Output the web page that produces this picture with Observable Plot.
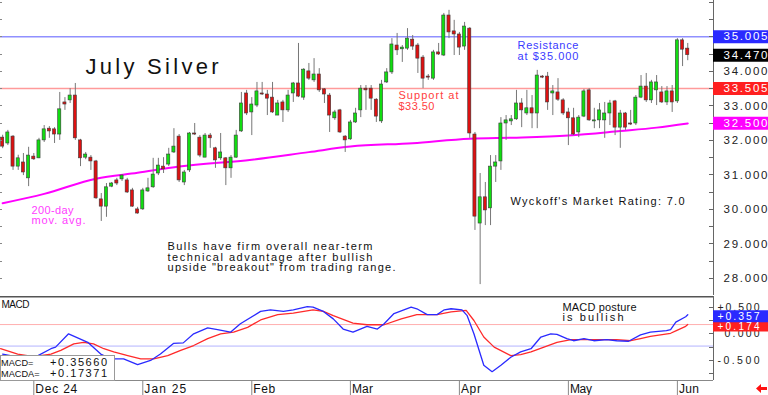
<!DOCTYPE html>
<html><head><meta charset="utf-8">
<script src="https://cdn.jsdelivr.net/npm/d3@7"></script>
<script src="https://cdn.jsdelivr.net/npm/@observablehq/plot@0.6"></script>
<style>
body{margin:0;background:#fff;}
#wrap{position:relative;width:768px;height:395px;overflow:hidden;background:#fff;}
#wrap svg{position:absolute;left:0;background:transparent;}
</style></head><body><div id="wrap"></div>
<script>
// ---- data (July silver futures, daily candles) ----
const opens = [32.08,31.91,32.11,31.24,31.36,30.90,31.53,31.48,32.00,32.34,
 32.32,32.17,33.10,33.16,33.30,32.00,31.50,31.50,31.39,30.29,
 30.08,30.66,30.84,30.87,30.84,30.55,30.00,30.00,30.52,30.64,
 31.04,31.24,31.30,31.65,32.11,30.78,31.13,32.20,32.08,31.50,
 32.14,31.77,31.48,31.48,31.19,31.50,32.26,33.36,32.81,33.01,
 33.36,33.33,33.24,32.72,33.10,32.87,33.36,33.65,33.24,34.00,
 33.74,33.91,33.48,33.30,32.64,32.87,32.11,32.03,32.52,32.87,
 33.50,33.50,33.18,32.55,33.68,33.97,34.75,34.64,34.66,34.92,
 34.75,34.40,33.85,33.79,34.55,34.46,35.62,35.16,35.07,34.72,
 35.24,32.17,29.59,30.35,30.03,31.24,31.39,32.49,32.55,32.61,
 33.07,32.78,32.93,32.78,33.85,33.85,33.36,33.39,33.16,32.81,
 32.64,32.23,32.69,33.45,32.55,32.58,32.58,32.78,33.13,32.37,
 32.78,32.49,32.49,33.24,33.56,33.16,33.45,33.39,33.10,33.42,
 33.13,34.90,34.66];
const highs = [32.15,32.29,32.14,31.57,31.62,31.80,31.62,32.06,32.43,32.40,
 32.37,33.39,33.24,33.50,33.65,32.03,31.65,31.56,31.42,30.46,
 30.75,30.78,30.90,31.01,30.90,30.61,30.06,30.61,30.90,31.48,
 31.48,31.50,31.77,32.34,32.17,31.13,32.23,32.49,32.14,32.20,
 32.20,31.80,32.20,31.50,31.56,32.29,33.39,33.45,33.24,33.68,
 33.68,33.45,33.68,33.16,33.16,33.45,33.68,34.81,34.08,34.23,
 34.37,34.08,33.50,33.36,32.87,32.90,32.14,32.58,32.93,33.59,
 33.59,33.59,33.21,33.74,34.08,34.95,35.10,34.75,35.24,35.04,
 34.81,34.46,33.91,34.61,34.81,35.68,35.77,35.48,35.13,35.42,
 35.27,32.23,31.04,30.78,31.56,31.56,32.66,32.72,32.72,33.45,
 33.21,33.45,33.30,34.03,33.88,33.97,33.59,33.79,33.21,32.93,
 32.93,32.72,33.48,33.50,32.93,33.07,33.10,33.16,33.16,32.87,
 32.81,32.87,33.30,33.88,33.94,33.74,33.88,33.56,33.56,33.59,
 34.95,34.95,34.81];
const lows = [31.76,31.85,31.13,31.13,30.98,30.66,31.42,31.47,31.94,32.06,
 31.91,32.00,32.87,33.07,32.00,31.24,31.44,31.13,30.29,29.65,
 29.77,30.63,30.69,30.81,30.46,30.06,29.86,29.97,30.49,30.61,
 30.98,31.04,31.24,31.62,30.78,30.69,31.07,32.14,31.50,31.50,
 31.77,31.19,31.42,30.69,30.90,31.48,32.23,32.72,32.14,32.95,
 33.30,32.72,32.78,32.72,32.52,32.81,33.10,33.24,33.16,33.74,
 33.68,33.39,33.07,32.23,32.58,32.20,31.65,32.00,32.49,32.66,
 32.87,32.87,32.52,32.49,33.65,33.91,34.46,34.26,34.61,34.61,
 33.94,33.50,33.74,33.74,34.46,34.43,34.95,34.46,34.46,34.61,
 32.06,29.39,27.82,29.53,29.53,30.78,31.13,32.00,32.43,32.58,
 32.37,32.72,32.34,32.34,33.79,32.87,32.72,33.13,32.72,31.85,
 32.14,32.08,32.66,32.55,32.34,32.34,32.06,32.43,32.14,31.77,
 32.29,32.43,32.43,33.21,33.10,33.07,33.01,33.07,33.01,32.81,
 33.07,34.14,34.31];
const closes = [31.82,32.23,31.24,31.48,31.07,31.56,31.45,32.00,32.32,32.26,
 32.17,32.90,33.04,33.30,32.06,31.48,31.59,31.39,30.32,30.08,
 30.64,30.75,30.75,30.98,30.49,30.08,29.88,30.55,30.61,31.01,
 31.27,31.16,31.59,31.82,30.84,31.07,32.20,32.17,31.56,32.14,
 32.06,31.42,31.65,31.19,31.50,32.14,33.07,32.78,33.04,33.42,
 33.33,33.21,32.81,33.07,32.87,33.30,33.65,33.27,34.05,33.79,
 33.91,33.45,33.33,32.72,32.81,32.23,32.00,32.52,32.78,33.50,
 33.45,33.21,32.69,33.62,33.97,34.78,34.61,34.69,34.95,34.72,
 34.37,33.79,33.82,34.55,34.49,35.62,35.13,35.07,34.69,35.30,
 32.20,29.79,30.35,29.97,31.24,31.36,32.49,32.58,32.61,33.07,
 32.87,32.93,32.78,33.88,33.82,33.10,33.42,33.18,32.78,32.64,
 32.17,32.66,33.42,32.58,32.58,32.87,32.78,33.07,32.37,32.78,
 32.37,32.46,33.24,33.56,33.16,33.68,33.68,33.10,33.42,33.10,
 34.90,34.63,34.47];

// 200-day moving average, sampled at candle indices
const maIdx = [1,9,19,27,35,49,60,68,80,91,100,110,120,127,133];
const maVal = [30.18,30.45,30.89,31.06,31.24,31.44,31.66,31.82,31.92,32.05,32.08,32.14,32.27,32.37,32.49];

// MACD (blue) and MACD average (red), sampled at candle indices
const macdIdx = [1,4,7.8,10.3,11.2,13.7,17.4,19.9,21.8,24.3,27,29.5,31.4,33.9,35.8,37.8,40.5,42.4,44.9,46.8,50.7,52.6,55.1,57,59.7,60.8,62.8,64.7,66.6,68.5,71.2,73.2,74.5,76.4,79.7,80.8,82.8,84.7,86.1,87.4,89.5,90.5,91.8,93.7,95.3,97,98.9,100.8,102.8,104.7,106.6,107.8,109.7,111,113,114.9,117.4,119.3,121.6,123.9,125.8,128.9,129.7,130.7,132.6,133];
const macdVal = [-0.38,-0.44,-0.41,-0.28,-0.25,0.00,-0.16,-0.38,-0.47,-0.47,-0.58,-0.50,-0.38,-0.18,-0.17,0.00,0.11,0.08,0.03,0.19,0.42,0.45,0.42,0.45,0.51,0.50,0.42,0.28,0.09,0.03,0.14,0.09,0.19,0.38,0.50,0.47,0.36,0.36,0.45,0.47,0.45,0.34,0.00,-0.59,-0.71,-0.59,-0.44,-0.34,-0.28,-0.06,0.00,-0.01,-0.09,-0.13,-0.09,-0.13,-0.11,-0.13,-0.14,-0.02,0.03,0.06,0.08,0.22,0.32,0.3566];
const sigIdx = [0.6,3.9,7,10.3,12.2,14.7,16.6,18.5,20.5,22.4,25.1,27.6,30.1,32.8,35.3,37.8,40.5,43,45.5,48.2,50.7,54,57,60.8,62.8,64.7,68.5,71.2,74.5,77.8,80.8,84.7,87.4,90.3,91.8,93.7,95.7,98.9,100.8,102.8,105.3,107.8,110.5,113,116.2,119.3,122,123.9,125.8,129.7,130.8,132.6,133];
const sigVal = [-0.28,-0.38,-0.43,-0.38,-0.31,-0.19,-0.16,-0.19,-0.28,-0.34,-0.41,-0.47,-0.47,-0.41,-0.31,-0.22,-0.09,0.00,0.03,0.12,0.26,0.36,0.39,0.45,0.42,0.34,0.20,0.17,0.17,0.28,0.36,0.36,0.41,0.44,0.25,-0.06,-0.25,-0.41,-0.39,-0.34,-0.25,-0.16,-0.11,-0.11,-0.11,-0.11,-0.13,-0.09,-0.05,0.01,0.06,0.14,0.17371];

const monthIdx = [7,28,49,68,89,110,131];
const monthLabels = ["Dec 24","Jan 25","Feb","Mar","Apr","May","Jun"];
const priceTicks = [34,33,32,31,30,29,28];
const levelValues = [35.005, 34.470, 33.505, 32.500];
const levelColors = ["#2a2aff","#000000","#ff2020","#ff00ff"];
const resistance = 35.005, support = 33.505;
const macdTicks = [0.5, 0, -0.5];
const macdTickLabels = ["+0.500","0.000","-0.500"];
const macdLast = 0.35660, sigLast = 0.17371, macdLower = -0.23;

// ---- build tables ----
const candles = opens.map((o,k)=>({i:k+1, open:o, high:highs[k], low:lows[k], close:closes[k]}));
const ma = maIdx.map((i,k)=>({i, v:maVal[k]}));
const macd = macdIdx.map((i,k)=>({i, v:macdVal[k]}));
const sig = sigIdx.map((i,k)=>({i, v:sigVal[k]}));
const levels = levelValues.map((v,k)=>({v, c:levelColors[k], t:v.toFixed(3)}));

const xDomain = [0.584, 137.96];
const F = "Liberation Sans, Arial, Helvetica, sans-serif";
// text annotation: baseline of LAST line at (x, y)
const ann = (text, x, y, fill, size=11, lh=10.3) => Plot.text([text], {text:d=>d, frameAnchor:"top-left", dx:x, dy:y, fill, fontSize:size, fontFamily:F, textAnchor:"start", lineAnchor:"bottom", lineHeight: lh/size});

const widths = {
  "July Silver":133, "Resistance":61, "at $35.000":61, "Support at":60, "$33.50":36,
  "200-day":42, "mov. avg.":54,
  "Bulls have firm overall near-term":205, "technical advantage after bullish":205,
  'upside "breakout" from trading range.':228, "Wyckoff's Market Rating: 7.0":174,
  "MACD posture":74, "is bullish":61, "MACD":28,
  "+0.500":42, "0.000":35, "-0.500":42, "+0.357":42, "+0.174":42,
  "Dec 24":42,"Jan 25":42,"Feb":22,"Mar":21,"Apr":20,"May":22,"Jun":20,
  "+0.35660":57, "+0.17371":57
};
function fit(svg){
  svg.querySelectorAll("text").forEach(el => {
    const spans = el.querySelectorAll("tspan");
    if (spans.length) {
      spans.forEach(sp => {
        const t = sp.textContent, w = widths[t];
        if (!w) return;
        const L = sp.getComputedTextLength();
        sp.style.letterSpacing = ((w - L) / Math.max(1, t.length - 1)) + "px";
      });
      return;
    }
    const t = el.textContent;
    let w = widths[t];
    if (!w && /^\d\d\.\d\d\d$/.test(t)) w = 44;
    if (w) { el.setAttribute("textLength", w); el.setAttribute("lengthAdjust","spacing"); }
  });
}

// ---- price panel ----
const main = Plot.plot({
  width:768, height:296, marginLeft:0, marginRight:55, marginTop:0, marginBottom:1,
  x:{domain:xDomain, axis:null},
  y:{domain:[27.504, 36.055], axis:null},
  style:{background:"transparent", fontFamily:F},
  marks:[
    Plot.ruleY([resistance], {stroke:"#9090ff", strokeWidth:1.5}),
    Plot.ruleY([support], {stroke:"#ff9a9a", strokeWidth:1.5}),
    Plot.line(ma, {x:"i", y:"v", stroke:"#ff00ff", strokeWidth:2, curve:"monotone-x"}),
    Plot.ruleX(candles, {x:"i", y1:"low", y2:"high", stroke:"#777", strokeWidth:1}),
    Plot.rect(candles, {x1:d=>d.i-0.3, x2:d=>d.i+0.3, y1:"open", y2:"close",
      fill:d=>d.close>=d.open ? "#11dd11" : "#dd1111", stroke:"#3a3a3a", strokeWidth:0.6}),
    Plot.ruleX([xDomain[1]], {stroke:"#666", strokeWidth:1}),
    Plot.ruleY(levels, {y:"v", stroke:"c", dx:713, strokeWidth:13}),
    Plot.text(priceTicks, {y:d=>d, text:d=>d.toFixed(3), frameAnchor:"right", dx:54, textAnchor:"end", lineAnchor:"middle", fill:"#222", fontSize:11.5, fontFamily:F}),
    Plot.text(levels, {y:"v", text:"t", frameAnchor:"right", dx:54, textAnchor:"end", lineAnchor:"middle", fill:"#fff", fontSize:11.5, fontFamily:F}),
    ann("July Silver", 85, 73, "#111", 22),
    ann("Resistance\nat $35.000", 517, 59, "#3a3aff"),
    ann("Support at\n$33.50", 398, 109, "#ff4040"),
    ann("200-day\nmov. avg.", 31, 223.5, "#ff3cff"),
    ann('Bulls have firm overall near-term\ntechnical advantage after bullish\nupside "breakout" from trading range.', 167, 270.5, "#111"),
    ann("Wyckoff's Market Rating: 7.0", 510, 204, "#111")
  ]
});
main.style.top = "0px";
{
  const sy = main.scale("y");
  const s = d3.select(main).append("g").attr("shape-rendering","crispEdges");
  const tv = d3.range(28, 36.01, 0.5);
  s.selectAll(".lt").data(tv).join("line").attr("x1",0).attr("x2",2)
    .attr("y1",d=>Math.round(sy.apply(d))+0.5).attr("y2",d=>Math.round(sy.apply(d))+0.5).attr("stroke","#888");
  s.selectAll(".rt").data(tv).join("line").attr("x1",709).attr("x2",713)
    .attr("y1",d=>Math.round(sy.apply(d))+0.5).attr("y2",d=>Math.round(sy.apply(d))+0.5).attr("stroke","#666");
}

// ---- MACD panel ----
const mp = Plot.plot({
  width:768, height:99, marginLeft:0, marginRight:55, marginTop:0, marginBottom:15,
  x:{domain:xDomain, axis:null},
  y:{domain:[-0.876, 0.70], axis:null},
  style:{background:"transparent", fontFamily:F},
  marks:[
    Plot.ruleY([sigLast], {stroke:"#ffb0b0", strokeWidth:1}),
    Plot.ruleY([macdLower], {stroke:"#b4b4ff", strokeWidth:1}),
    Plot.line(sig, {x:"i", y:"v", stroke:"#ff2a2a", strokeWidth:1.3}),
    Plot.line(macd, {x:"i", y:"v", stroke:"#2a2aff", strokeWidth:1.3}),
    Plot.ruleX([xDomain[1]], {stroke:"#666", strokeWidth:1}),
    Plot.ruleX(monthIdx, {x:d=>d, dy:84, stroke:"#888", strokeWidth:1}),
    Plot.text(macdTicks, {y:d=>d, text:(d,k)=>macdTickLabels[k], frameAnchor:"right", dx:46, textAnchor:"end", lineAnchor:"middle", fill:"#222", fontSize:10.5, fontFamily:F}),
    Plot.ruleY([sigLast], {dx:713, dy:1, stroke:"#ff2020", strokeWidth:12}),
    Plot.ruleY([macdLast], {dx:713, dy:1.5, stroke:"#2a2aff", strokeWidth:12}),
    Plot.text([sigLast], {y:d=>d, text:d=>"+"+d.toFixed(3), frameAnchor:"right", dx:46, dy:2.5, textAnchor:"end", lineAnchor:"middle", fill:"#fff", fontSize:10, fontFamily:F}),
    Plot.text([macdLast], {y:d=>d, text:d=>"+"+d.toFixed(3), frameAnchor:"right", dx:46, dy:1.5, textAnchor:"end", lineAnchor:"middle", fill:"#fff", fontSize:10.5, fontFamily:F}),
    Plot.text(monthIdx, {x:d=>d, text:(d,k)=>monthLabels[k], frameAnchor:"bottom", dx:1.5, dy:12, textAnchor:"start", lineAnchor:"bottom", fill:"#111", fontSize:12, fontFamily:F}),
    ann("MACD", 1, 11, "#111", 10),
    ann("MACD posture\nis bullish", 562, 24.5, "#111")
  ]
});
mp.style.top = "296px";
{
  const s = d3.select(mp);
  s.append("line").attr("x1",0).attr("x2",713).attr("y1",0.5).attr("y2",0.5).attr("stroke","#555").attr("stroke-width",2);
  s.append("line").attr("x1",0).attr("x2",713).attr("y1",84.5).attr("y2",84.5).attr("stroke","#888").attr("stroke-width",1);
  const sy = mp.scale("y");
  s.append("g").attr("shape-rendering","crispEdges").selectAll("line").data(d3.range(-0.75, 0.76, 0.25)).join("line")
    .attr("x1",709).attr("x2",713).attr("y1",d=>Math.round(sy.apply(d))+0.5).attr("y2",d=>Math.round(sy.apply(d))+0.5).attr("stroke","#666");
  const box = s.append("g").attr("text-anchor","start").attr("font-family",F).attr("fill","#111");
  box.append("rect").attr("x",0.5).attr("y",59.5).attr("width",114).attr("height",25).attr("fill","#fff").attr("stroke","#999");
  const rows = [["MACD=", "+"+macdLast.toFixed(5), 70], ["MACDA=", "+"+sigLast.toFixed(5), 81]];
  rows.forEach(([a,b,y])=>{
    box.append("text").attr("x",1).attr("y",y).attr("font-size",9.2).text(a);
    box.append("text").attr("x",50).attr("y",y).attr("font-size",11).text(b);
  });
  s.append("path").attr("d","M756,92.5 L761,88 L761,91 L767,91 L767,94 L761,94 L761,97 Z").attr("fill","#ff1010");
}

document.getElementById("wrap").append(main, mp);
fit(main); fit(mp);
</script></body></html>
